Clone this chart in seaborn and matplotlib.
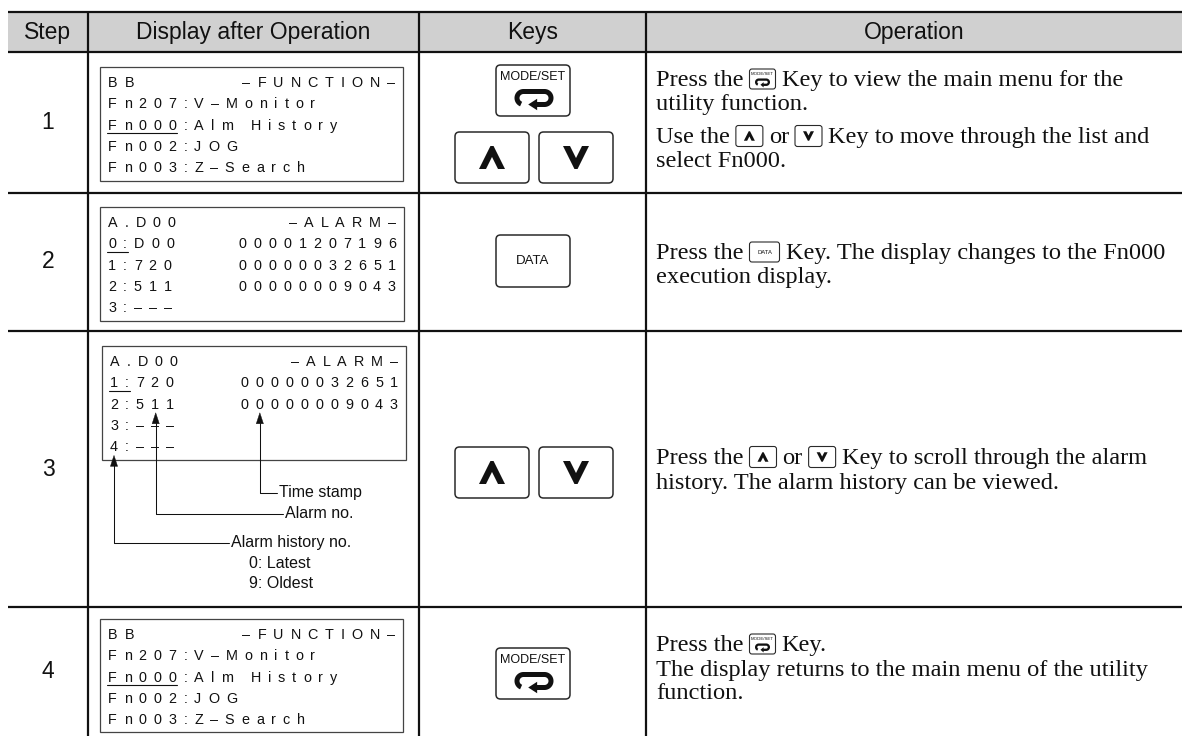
import numpy as np
import seaborn as sns
import matplotlib
matplotlib.use("Agg")
import matplotlib.pyplot as plt
from matplotlib import font_manager as fm
from matplotlib.patches import FancyBboxPatch, Rectangle, Polygon

# ---------------- data ----------------
headers = ["Step", "Display after Operation", "Keys", "Operation"]
steps = ["1", "2", "3", "4"]

display_left = [
    ["BB", "Fn207:V–Monitor", "Fn000:Alm History", "Fn002:JOG", "Fn003:Z–Search"],
    ["A.D00", "0:D00", "1:720", "2:511", "3:–––"],
    ["A.D00", "1:720", "2:511", "3:–––", "4:–––"],
    ["BB", "Fn207:V–Monitor", "Fn000:Alm History", "Fn002:JOG", "Fn003:Z–Search"],
]
display_right = [
    ["–FUNCTION–", "", "", "", ""],
    ["–ALARM–", "00001207196", "00000032651", "00000009043", ""],
    ["–ALARM–", "00000032651", "00000009043", "", ""],
    ["–FUNCTION–", "", "", "", ""],
]
cursor_line = [2, 1, 1, 2]
cursor_chars = [5, 2, 2, 5]

keys = [["MODESET", "UP", "DOWN"], ["DATA"], ["UP", "DOWN"], ["MODESET"]]

operation_lines = [
    [["Press the", "{MODESET}", "Key to view the main menu for the"],
     ["utility function."],
     ["Use the", "{UP}", "or", "{DOWN}", "Key to move through the list and"],
     ["select Fn000."]],
    [["Press the", "{DATA}", "Key. The display changes to the Fn000"],
     ["execution display."]],
    [["Press the", "{UP}", "or", "{DOWN}", "Key to scroll through the alarm"],
     ["history. The alarm history can be viewed."]],
    [["Press the", "{MODESET}", "Key."],
     ["The display returns to the main menu of the utility"],
     ["function."]],
]

callout_labels = ["Time stamp", "Alarm no.", "Alarm history no."]
callout_targets = [(2, "right", 1), (2, "left", 3), (4, "left", 0)]
history_notes = ["0: Latest", "9: Oldest"]

# ---------------- fonts ----------------
def pick(*names):
    for n in names:
        try:
            fm.findfont(fm.FontProperties(family=n), fallback_to_default=False)
            return n
        except Exception:
            pass
    return None

SANS = pick("Liberation Sans", "Arimo") or "DejaVu Sans"
SERIF = pick("Liberation Serif", "Tinos") or "DejaVu Serif"

sns.set_theme(style="white")
plt.rcParams['font.family'] = [SANS, 'DejaVu Sans']

HDR_FS = 16.5
STEP_FS = 16.5
KEYTXT_FS = 9.0
OP_FS = 17.6
OP_PX = OP_FS / 0.72
LABEL_FS = 11.5
DISP_PX = 14.4
DISP_FS = DISP_PX * 0.72
TRACK = 6.9

TXT = "#111111"
LINE = "#111111"
HDR_BG = "#d0d0d0"
KEY_EC = "#2a2a2a"

ARIAL = {' ': 278, '.': 278, ':': 278, '–': 556, '-': 333, '/': 278}
ARIAL.update({d: 556 for d in "0123456789"})
ARIAL.update(dict(zip("ABCDEFGHIJKLMNOPQRSTUVWXYZ",
                      [667, 667, 722, 722, 667, 611, 778, 722, 278, 500, 667, 556, 833,
                       722, 778, 667, 778, 722, 667, 611, 722, 667, 944, 667, 667, 611])))
ARIAL.update(dict(zip("abcdefghijklmnopqrstuvwxyz",
                      [556, 556, 500, 556, 556, 278, 556, 556, 222, 222, 500, 222, 833,
                       556, 556, 556, 556, 333, 500, 278, 556, 500, 722, 500, 500, 500])))

# ---------------- layout ----------------
W, H = 1184, 736
X0, X1 = 8, 1182
COL_X = [88, 419, 646]
ROW_Y = [12, 52, 193, 331, 607, 736]
BOXES = [(100, 67, 403, 181), (100, 207, 404, 321), (102, 346, 406, 460), (100, 619, 403, 732)]
KEY_W, KEY_H = 74, 51
KEY_POS = [
    [(496, 65), (455, 132), (539, 132)],
    [(496, 235)],
    [(455, 447), (539, 447)],
    [(496, 648)],
]
OP_X = 656
OP_Y = [[78, 102, 135, 159], [251, 275], [456, 481], [643, 668, 691]]
LABEL_POS = [(279, 493), (285, 514), (231, 543)]
NOTE_POS = [(249, 563), (249, 583)]

fig = plt.figure(figsize=(W / 100, H / 100), dpi=100)
fig.patch.set_facecolor("white")
ax = fig.add_axes([0, 0, 1, 1])
ax.set_xlim(0, W)
ax.set_ylim(H, 0)
ax.axis("off")
renderer = fig.canvas.get_renderer()

# ---------------- table frame ----------------
ax.add_patch(Rectangle((X0, ROW_Y[0]), X1 - X0, ROW_Y[1] - ROW_Y[0], fc=HDR_BG, lw=0, zorder=0))
for y in ROW_Y[:-1]:
    ax.plot([X0, X1], [y, y], color=LINE, lw=1.6, solid_capstyle="butt", zorder=3)
for x in COL_X:
    ax.plot([x, x], [ROW_Y[0], H], color=LINE, lw=1.6, solid_capstyle="butt", zorder=3)

col_edges = [X0] + COL_X + [X1]
for i, h in enumerate(headers):
    cx = (col_edges[i] + col_edges[i + 1]) / 2
    ax.text(cx, (ROW_Y[0] + ROW_Y[1]) / 2 + 1, h, ha="center", va="center",
            fontsize=HDR_FS, family=SANS, color=TXT)

for r, s in enumerate(steps):
    cy = (ROW_Y[r + 1] + ROW_Y[r + 2]) / 2
    ax.text((X0 + COL_X[0]) / 2, cy, s, ha="center", va="center",
            fontsize=STEP_FS, family=SANS, color=TXT)


# ---------------- display panels ----------------
def char_positions(s, x, align):
    widths = [ARIAL.get(c, 556) / 1000 * DISP_PX for c in s]
    total = sum(widths) + TRACK * (len(s) - 1)
    if align == "right":
        x = x - total
    pos = []
    for w in widths:
        pos.append((x, x + w))
        x += w + TRACK
    return pos


def draw_chars(s, pos, yc):
    base = yc + 0.358 * DISP_PX
    for c, (l, rr) in zip(s, pos):
        if c != " ":
            ax.text((l + rr) / 2, base, c, ha="center", va="baseline",
                    fontsize=DISP_FS, family=SANS, color=TXT)


panel_pos = []
for r in range(4):
    bx0, by0, bx1, by1 = BOXES[r]
    ax.add_patch(Rectangle((bx0, by0), bx1 - bx0, by1 - by0, fc="white",
                           ec="#444444", lw=0.9, zorder=2))
    rows = []
    for i in range(5):
        yc = by0 + 15 + i * 21.3
        ls, rs = display_left[r][i], display_right[r][i]
        lp = char_positions(ls, bx0 + 8, "left") if ls else []
        rp = char_positions(rs, bx1 - 8, "right") if rs else []
        draw_chars(ls, lp, yc)
        draw_chars(rs, rp, yc)
        rows.append({"left": lp, "right": rp, "y": yc})
        if i == cursor_line[r]:
            n = cursor_chars[r]
            uy = yc + 0.358 * DISP_PX + 3.6
            ax.plot([lp[0][0] - 1, lp[n - 1][1] + 1], [uy, uy], color=TXT, lw=0.8)
    panel_pos.append(rows)

# ---------------- call-outs in step 3 ----------------
rows3 = panel_pos[2]
for k, (label, (li, side, ci)) in enumerate(zip(callout_labels, callout_targets)):
    l, rr = rows3[li][side][ci]
    ax_x = (l + rr) / 2 + (1.0 if side == "left" and k == 1 else 0)
    tip = rows3[li]["y"] + 0.358 * DISP_PX + 4
    lx, ly = LABEL_POS[k]
    ax.add_patch(Polygon([(ax_x, tip), (ax_x - 3.6, tip + 11), (ax_x + 3.6, tip + 11)],
                         closed=True, fc=TXT, ec=TXT, lw=0.3, zorder=5))
    ax.plot([ax_x, ax_x, lx - 2], [tip + 10, ly, ly], color=TXT, lw=0.75, zorder=5)
    ax.text(lx, ly, label, ha="left", va="center", fontsize=LABEL_FS, family=SANS, color=TXT)
for note, (nx, ny) in zip(history_notes, NOTE_POS):
    ax.text(nx, ny, note, ha="left", va="center", fontsize=LABEL_FS, family=SANS, color=TXT)


# ---------------- key icons ----------------
def key_box(x, y, w, h, lw=1.1, rad=4.0):
    ax.add_patch(FancyBboxPatch((x + rad, y + rad), w - 2 * rad, h - 2 * rad,
                                boxstyle=f"round,pad={rad}", fc="white", ec=KEY_EC,
                                lw=lw, zorder=4))


def loop_symbol(cx, cy, w, h, lw_px):
    r = (h - lw_px) / 2
    L = (w - lw_px) / 2 - r
    t1 = np.linspace(np.pi * 0.62, np.pi * 1.5, 30)
    xs = list(cx - L + r * np.cos(t1))
    ys = list(cy + r * np.sin(t1))
    t2 = np.linspace(-np.pi / 2, np.pi / 2, 30)
    xs += list(cx + L + r * np.cos(t2))
    ys += list(cy + r * np.sin(t2))
    xs.append(cx + 0.15 * L)
    ys.append(cy + r)
    ax.plot(xs, ys, color="#111111", lw=lw_px * 0.72, solid_capstyle="butt",
            solid_joinstyle="round", zorder=6)
    tipx = cx - 0.55 * L
    ah = lw_px * 1.15
    ax.add_patch(Polygon([(tipx, cy + r), (cx + 0.3 * L, cy + r - ah), (cx + 0.3 * L, cy + r + ah)],
                         closed=True, fc="#111111", ec="none", zorder=6))


def chevron(cx, cy, w, h, s, up=True):
    a = w * 0.06
    d = h / 2 - (w / 2 - s) * h / (w / 2 - a)
    sg = 1 if up else -1
    pts = [(cx - w / 2, cy + sg * h / 2), (cx - a, cy - sg * h / 2), (cx + a, cy - sg * h / 2),
           (cx + w / 2, cy + sg * h / 2), (cx + w / 2 - s, cy + sg * h / 2),
           (cx, cy + sg * d), (cx - w / 2 + s, cy + sg * h / 2)]
    ax.add_patch(Polygon(pts, closed=True, fc="#111111", ec="none", zorder=6))


def draw_key(kind, x, y, w, h, small=False):
    cx, cy = x + w / 2, y + h / 2
    key_box(x, y, w, h, lw=0.8 if small else 1.1, rad=2.5 if small else 4.5)
    if kind == "MODESET":
        if small:
            ax.text(cx, y + 5, "MODE/SET", ha="center", va="center", fontsize=3.2,
                    family=SANS, color=TXT, zorder=7)
            loop_symbol(cx, y + 13.2, 15, 7.5, 2.3)
        else:
            ax.text(cx, y + 12, "MODE/SET", ha="center", va="center", fontsize=KEYTXT_FS,
                    family=SANS, color=TXT, zorder=7)
            loop_symbol(cx + 1, y + 33, 39, 18, 5.0)
    elif kind == "DATA":
        ax.text(cx, cy, "DATA", ha="center", va="center",
                fontsize=4.2 if small else 9.5, family=SANS, color=TXT, zorder=7)
    elif kind in ("UP", "DOWN"):
        if small:
            chevron(cx, cy, 11, 9.5, 3.3, up=(kind == "UP"))
        else:
            chevron(cx, cy, 26, 23, 7.0, up=(kind == "UP"))


for r in range(4):
    for kind, (kx, ky) in zip(keys[r], KEY_POS[r]):
        draw_key(kind, kx, ky, KEY_W, KEY_H + (1 if kind == "DATA" else 0))

# ---------------- operation text ----------------
MINI = {"MODESET": (26, 20), "UP": (27, 21), "DOWN": (27, 21), "DATA": (30, 20)}
GAP = 6.0
for r in range(4):
    for li, tokens in enumerate(operation_lines[r]):
        yc = OP_Y[r][li]
        base = yc + 0.331 * OP_PX
        x = OP_X
        first = True
        for tok in tokens:
            if not first:
                x += GAP
            if tok.startswith("{"):
                kind = tok.strip("{}")
                iw, ih = MINI[kind]
                draw_key(kind, x, yc - ih / 2 + 1, iw, ih, small=True)
                x += iw
            else:
                t = ax.text(x, base, tok, ha="left", va="baseline", fontsize=OP_FS,
                            family=SERIF, color=TXT)
                x += t.get_window_extent(renderer=renderer).width
            first = False

fig.savefig("out.png", dpi=100, facecolor="white")
